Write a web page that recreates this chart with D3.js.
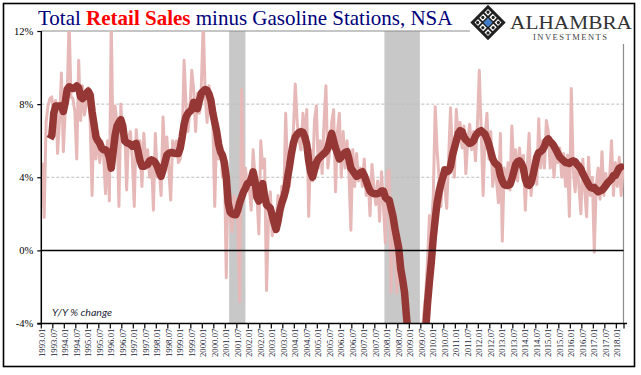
<!DOCTYPE html>
<html><head><meta charset="utf-8">
<script src="https://cdn.jsdelivr.net/npm/d3@7"></script>
<style>
html,body{margin:0;padding:0;background:#fff;}
svg{display:block;}
</style></head>
<body>
<svg id="c" width="641" height="375"></svg>
<script>
// ---------- DATA ----------
const startYear = 1993, nMonths = 304; // 1993.01 .. 2018.04
const categories = [];
for (let i = 0; i < nMonths; i++) {
  const y = startYear + Math.floor(i / 12), m = (i % 12) + 1;
  categories.push(y + "." + (m < 10 ? "0" + m : m));
}
const tickLabels = ["1993.01","1993.07","1994.01","1994.07","1995.01","1995.07","1996.01","1996.07","1997.01","1997.07",
  "1998.01","1998.07","1999.01","1999.07","2000.01","2000.07","2001.01","2001.07","2002.01","2002.07",
  "2003.01","2003.07","2004.01","2004.07","2005.01","2005.07","2006.01","2006.07","2007.01","2007.07",
  "2008.01","2008.07","2009.01","2009.07","2010.01","2010.07","2011.01","2011.07","2012.01","2012.07",
  "2013.01","2013.07","2014.01","2014.07","2015.01","2015.07","2016.01","2016.07","2017.01","2017.07","2018.01"];
const yTicks = [-4, 0, 4, 8, 12];
const recessions = [["2001.03","2001.11"],["2007.12","2009.06"]];

// monthly Y/Y % change (thin line)
const yoyMonthly = [
  4.8,1.8,7.0,7.9,8.3,8.4,7.4,8.2,5.3,7.1,9.7,5.4,
  7.7,8.5,12.6,8.4,8.3,7.6,5.0,10.4,7.1,9.0,7.4,8.0,
  8.9,7.0,3.0,7.5,5.0,6.5,4.8,6.0,5.2,3.1,6.0,2.7,
  12.6,5.0,7.9,7.0,2.4,8.0,6.0,6.9,3.3,6.2,6.5,5.0,
  2.4,6.6,5.5,6.0,3.5,6.4,4.5,5.5,4.0,5.0,2.2,6.4,
  4.0,4.5,3.0,7.3,5.0,6.2,4.5,2.75,6.0,5.5,6.0,4.8,
  5.0,6.0,10.4,8.0,6.5,7.7,9.85,8.8,6.5,8.6,7.5,9.0,
  12.6,8.5,7.0,9.0,7.7,7.0,2.4,6.5,5.0,6.0,4.0,5.0,
  -1.5,4.0,2.0,1.0,3.0,2.5,1.5,-2.8,8.8,3.0,4.5,3.5,
  3.5,2.2,5.5,4.0,3.0,0.9,6.0,4.5,5.0,-2.2,1.5,3.2,
  0.8,2.0,1.5,3.0,1.8,3.5,2.8,7.5,4.2,3.5,5.5,6.5,
  9.1,7.0,6.0,5.5,7.5,6.0,7.7,1.85,5.5,3.8,7.1,7.9,
  4.5,6.0,4.2,7.0,9.0,4.5,5.5,7.0,7.7,3.2,6.5,7.5,
  4.0,6.5,4.5,6.0,4.2,1.1,5.5,3.5,5.3,3.8,4.5,3.5,
  5.0,3.0,4.0,1.9,4.7,3.5,2.5,3.8,1.6,4.3,2.5,0.4,
  4.3,4.4,-2.3,2.0,0.6,-2.35,0.5,-1.0,-2.0,-2.5,-4.5,-5.5,
  -7.0,-7.5,-7.8,-8.0,-7.5,-6.5,-5.0,-3.5,-2.5,-0.5,1.9,1.2,
  3.0,7.85,5.5,4.0,2.4,4.5,3.5,2.3,5.0,7.8,5.0,4.0,
  7.7,6.2,7.0,5.6,6.8,4.2,6.0,6.9,5.5,6.5,4.9,6.8,
  9.85,6.5,3.0,6.2,7.5,5.0,6.5,3.5,4.5,3.8,2.6,6.4,
  0.5,4.5,3.5,4.8,3.3,6.8,4.5,5.5,3.8,5.6,4.3,5.2,
  2.2,4.5,6.4,3.0,4.5,5.0,3.6,7.2,4.5,6.0,4.5,7.1,
  6.5,4.5,5.8,4.0,5.5,4.8,5.6,4.0,5.3,3.5,5.2,1.85,
  8.85,4.5,3.2,4.8,3.5,2.0,5.0,3.3,1.84,5.1,3.0,4.0,
  -0.1,3.5,4.5,2.8,5.4,3.0,4.2,3.5,4.0,6.0,3.0,4.8,
  3.5,5.1,3.0,4.5
];
// smoothed series (thick line)
const yoySmoothed = [
  null,null,null,null,6.1,6.3,7.5,7.9,7.9,7.9,7.9,7.6,
  8.1,8.8,8.95,8.9,8.85,8.9,9.0,8.9,8.4,8.3,8.4,8.6,
  8.7,8.5,7.6,6.9,6.2,6.0,5.85,5.6,5.5,5.5,5.4,5.1,
  4.5,5.4,6.3,6.8,7.0,7.15,6.8,6.0,5.9,5.85,5.8,5.7,
  5.8,5.85,5.4,4.9,4.6,4.6,4.65,4.7,4.9,4.95,4.9,4.8,
  4.6,4.3,4.05,4.4,4.8,5.2,5.3,5.35,5.35,5.3,5.3,5.3,
  5.6,6.2,6.9,7.3,7.5,7.6,7.7,8.1,8.0,7.75,8.2,8.6,
  8.7,8.8,8.75,8.55,8.2,7.5,7.0,6.5,5.8,5.4,5.2,4.8,
  4.0,2.6,2.1,2.0,1.95,1.95,2.2,2.6,2.9,3.2,3.4,3.65,
  3.7,3.9,4.3,3.8,2.9,2.7,3.3,3.65,3.0,2.5,2.4,2.3,
  1.9,1.5,1.15,1.6,2.2,2.6,2.9,3.3,4.0,4.6,5.3,5.85,
  6.2,6.35,6.45,6.5,6.45,6.2,5.8,4.9,4.3,4.0,4.4,4.8,
  5.0,5.1,5.2,5.3,5.4,5.6,6.0,6.4,6.0,5.6,5.3,5.0,
  5.1,5.25,5.35,5.4,5.0,4.5,4.35,4.2,4.05,4.1,4.25,4.3,
  4.1,3.8,3.5,3.25,3.15,3.1,3.1,3.1,3.15,3.25,3.25,2.9,
  2.8,2.75,2.3,1.85,1.2,0.65,0.1,-1.0,-1.6,-2.3,-3.6,-4.8,
  -5.8,-6.5,-7.0,-7.3,-7.4,-7.2,-6.6,-5.6,-4.4,-2.9,-1.7,-0.6,
  0.7,1.7,2.6,3.2,3.65,4.0,4.4,4.3,4.35,4.6,5.2,5.6,
  6.0,6.4,6.55,6.5,6.2,6.05,5.95,5.85,5.9,6.0,6.25,6.4,
  6.5,6.55,6.45,6.35,6.1,5.8,5.4,5.0,4.8,4.7,4.6,4.1,
  3.8,3.6,3.55,3.55,3.6,3.9,4.3,4.7,4.85,4.9,4.75,4.5,
  3.9,3.6,3.55,3.7,4.1,4.6,5.1,5.35,5.4,5.5,5.7,6.0,
  6.1,5.95,5.85,5.7,5.5,5.3,5.1,5.0,4.9,4.8,4.8,4.75,
  4.85,4.9,4.85,4.7,4.6,4.45,4.2,4.0,3.8,3.6,3.45,3.4,
  3.45,3.3,3.2,3.25,3.3,3.4,3.55,3.7,3.8,3.9,4.1,4.1,
  4.3,4.5,4.55,4.4
];

// ---------- LAYOUT ----------
const svg = d3.select("#c");
const L = 41.3, R = 624, T = 31, B = 323.5;
const x = d3.scaleBand().domain(categories).range([L, R]).padding(0);
const bw = x.bandwidth();
const y = d3.scaleLinear().domain([-4, 12]).range([B, T]);
const cx = d => x(d) + bw / 2;

// frame
svg.append("rect").attr("x", 3.5).attr("y", 3.5).attr("width", 631).attr("height", 363)
  .attr("fill", "none").attr("stroke", "#000").attr("stroke-width", 1.6);

const defs = svg.append("defs");
defs.append("clipPath").attr("id", "pc").append("rect")
  .attr("x", L).attr("y", T).attr("width", R - L).attr("height", B - T);

// recessions
svg.append("g").selectAll("rect").data(recessions).join("rect")
  .attr("x", d => x(d[0])).attr("y", T)
  .attr("width", d => x(d[1]) + bw * 0.5 - x(d[0])).attr("height", B - T)
  .attr("fill", "#c8c8c8");

// gridlines
svg.append("g").selectAll("line").data([4, 8]).join("line")
  .attr("x1", L).attr("x2", R - 0.5).attr("y1", d => y(d)).attr("y2", d => y(d))
  .attr("stroke", "#bdbdbd").attr("stroke-width", 1).attr("stroke-dasharray", "3,2");

// top and right borders of plot
svg.append("line").attr("x1", L).attr("x2", 470).attr("y1", T).attr("y2", T)
  .attr("stroke", "#8c8c8c").attr("stroke-width", 1.2);
svg.append("line").attr("x1", R - 0.5).attr("x2", R - 0.5).attr("y1", 44).attr("y2", B)
  .attr("stroke", "#8c8c8c").attr("stroke-width", 1.2);

// series
const plot = svg.append("g").attr("clip-path", "url(#pc)");
const lineGen = d3.line().defined(d => d[1] !== null).x(d => cx(d[0])).y(d => y(d[1]));
plot.append("path").datum(categories.map((c, i) => [c, yoyMonthly[i]]))
  .attr("d", lineGen).attr("fill", "none").attr("stroke", "#e6b9b8")
  .attr("stroke-width", 3).attr("stroke-linejoin", "round");
plot.append("path").datum(categories.map((c, i) => [c, yoySmoothed[i]]))
  .attr("d", lineGen).attr("fill", "none").attr("stroke", "#953735")
  .attr("stroke-width", 7.5).attr("stroke-linejoin", "round").attr("stroke-linecap", "butt");

// zero line
svg.append("line").attr("x1", L).attr("x2", R - 0.5).attr("y1", y(0)).attr("y2", y(0))
  .attr("stroke", "#000").attr("stroke-width", 1.5);

// y axis
const ya = svg.append("g").attr("transform", `translate(${L},0)`)
  .call(d3.axisLeft(y).tickValues(yTicks).tickFormat(d => d + "%").tickSize(4).tickPadding(4));
ya.select(".domain").attr("stroke", "#000").attr("stroke-width", 1.5).attr("d", `M0,${T}V${B}`);
ya.selectAll(".tick line").attr("stroke", "#000").attr("stroke-width", 1.2);
ya.selectAll(".tick text").attr("font-family", "'Liberation Serif', serif").attr("font-size", 10.5)
  .attr("fill", "#000");

// x axis
const xa = svg.append("g").attr("transform", `translate(0,${B})`)
  .call(d3.axisBottom(x).tickValues(tickLabels).tickSize(5).tickSizeOuter(0).tickPadding(3));
xa.select(".domain").attr("stroke", "#000").attr("stroke-width", 1.6).attr("d", `M${L - 4},0H${R + 3}`);
xa.selectAll(".tick").attr("transform", d => `translate(${x(d)},0)`);
xa.selectAll(".tick line").attr("stroke", "#000").attr("stroke-width", 1.2);
xa.append("line").attr("x1", R).attr("x2", R).attr("y1", 0).attr("y2", 5)
  .attr("stroke", "#000").attr("stroke-width", 1.2);
xa.selectAll(".tick text")
  .attr("font-family", "'Liberation Serif', serif").attr("font-size", 8.8).attr("fill", "#1a1a33")
  .attr("text-anchor", "end").attr("transform", `translate(${bw / 2},5) rotate(-90)`)
  .attr("x", 0).attr("y", 0).attr("dy", "0.33em");

// "Y/Y % change"
svg.append("text").attr("x", 52).attr("y", 316).text("Y/Y % change")
  .attr("font-family", "Lato, 'Open Sans', sans-serif").attr("font-style", "italic")
  .attr("font-size", 9).attr("fill", "#1f1f3a").attr("textLength", 60).attr("lengthAdjust", "spacingAndGlyphs");

// title
const title = svg.append("text").attr("x", 38).attr("y", 25)
  .attr("font-family", "'Liberation Serif', 'Times New Roman', serif").attr("font-size", 21);
title.append("tspan").attr("fill", "#00007a").text("Total ");
title.append("tspan").attr("fill", "#ff0000").attr("font-weight", "bold").text("Retail Sales");
title.append("tspan").attr("fill", "#00007a").text(" minus Gasoline Stations, NSA");

// logo
const logo = svg.append("g").attr("transform", "translate(488,22.5) rotate(45)");
logo.append("rect").attr("x", -11).attr("y", -11).attr("width", 22).attr("height", 22)
  .attr("fill", "#fff").attr("stroke", "#222").attr("stroke-width", 3);
[-3.7, 3.7].forEach(v => {
  logo.append("line").attr("x1", v).attr("x2", v).attr("y1", -11).attr("y2", 11).attr("stroke", "#222").attr("stroke-width", 2);
  logo.append("line").attr("y1", v).attr("y2", v).attr("x1", -11).attr("x2", 11).attr("stroke", "#222").attr("stroke-width", 2);
});
[[-7.3,-7.3],[7.3,-7.3],[-7.3,7.3],[7.3,7.3],[0,-7.3],[0,7.3],[-7.3,0],[7.3,0]].forEach(p => {
  logo.append("circle").attr("cx", p[0]).attr("cy", p[1]).attr("r", 1.6).attr("fill", "#222");
});
logo.append("rect").attr("x", -3.2).attr("y", -3.2).attr("width", 6.4).attr("height", 6.4).attr("fill", "#3f7ccc");
svg.append("text").attr("x", 510).attr("y", 28.5).text("ALHAMBRA")
  .attr("font-family", "'Liberation Serif', serif").attr("font-size", 19).attr("fill", "#333")
  .attr("textLength", 122).attr("lengthAdjust", "spacingAndGlyphs");
svg.append("text").attr("x", 533).attr("y", 40).text("INVESTMENTS")
  .attr("font-family", "'Liberation Serif', serif").attr("font-size", 8.5).attr("fill", "#444")
  .attr("textLength", 74).attr("lengthAdjust", "spacing");
</script>
</body></html>
